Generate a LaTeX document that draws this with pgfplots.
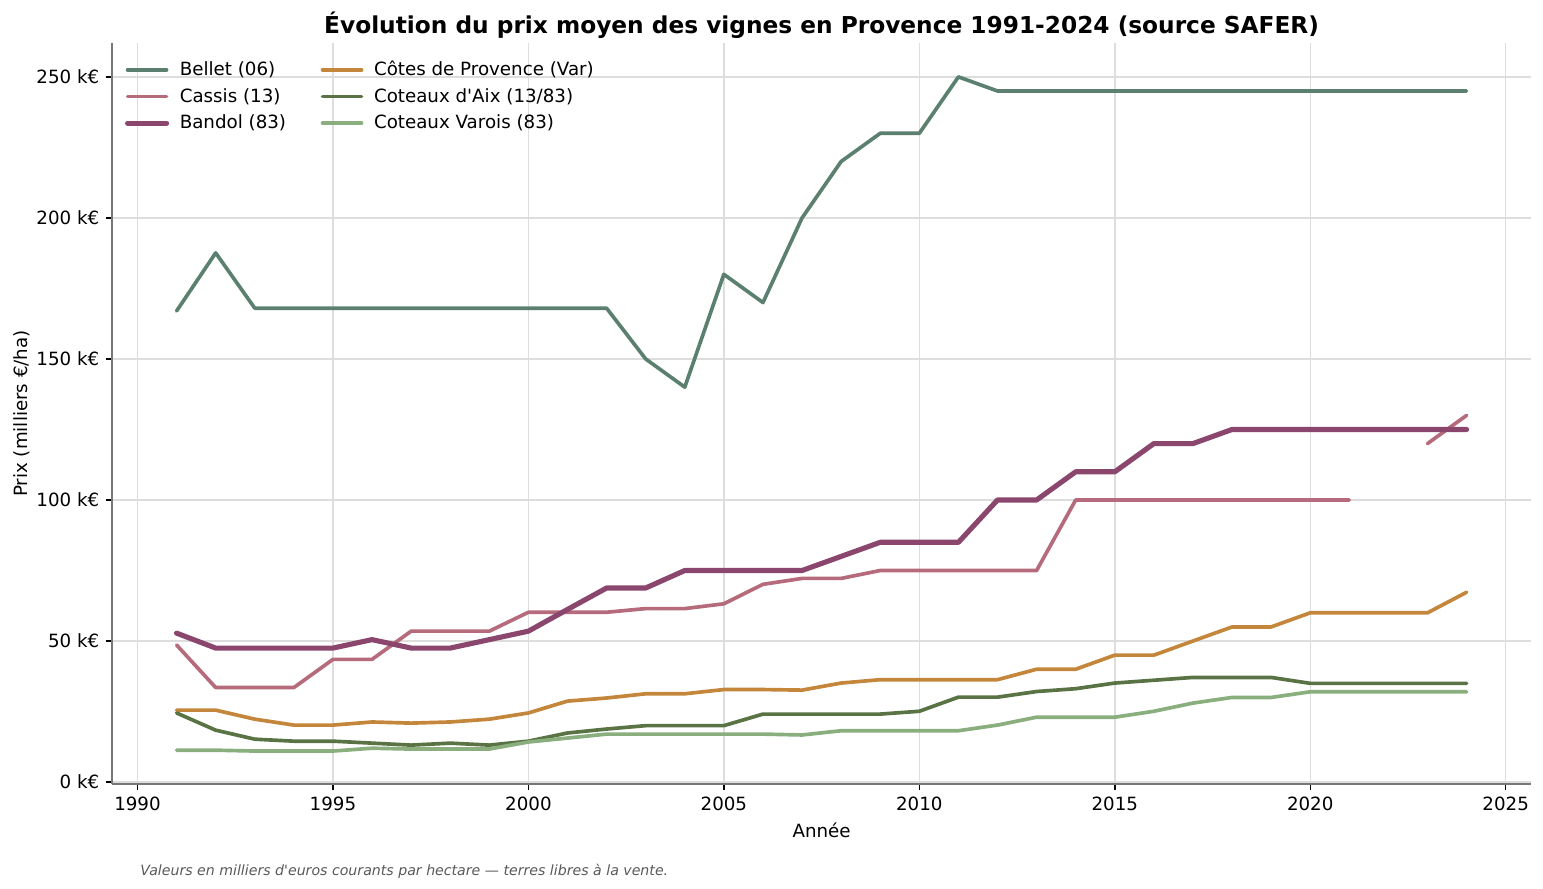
\documentclass[border=0pt]{standalone}
\usepackage{pgfplots}
\pgfplotsset{compat=1.18}
\usepackage{pgfplotstable}
\usepackage{fontspec}
\setmainfont{DejaVu Sans}

\definecolor{bellet}{HTML}{5B8070}
\definecolor{cassis}{HTML}{B56B7B}
\definecolor{bandol}{HTML}{8B466E}
\definecolor{cotes}{HTML}{C4863A}
\definecolor{aix}{HTML}{5A7344}
\definecolor{varois}{HTML}{8AAE7D}
\definecolor{spine}{HTML}{777777}
\definecolor{gridc}{HTML}{DDDDDD}

% prix en k€/ha
\pgfplotstableread{
year bellet cassis bandol cotes aix varois
1991 167 48.6 52.8 25.5 24.5 11.3
1992 187.6 33.5 47.5 25.5 18.4 11.3
1993 168 33.5 47.5 22.3 15.2 11.0
1994 168 33.5 47.5 20.2 14.5 11.0
1995 168 43.5 47.5 20.2 14.5 11.0
1996 168 43.5 50.5 21.3 13.8 12.0
1997 168 53.5 47.5 20.9 13.1 11.7
1998 168 53.5 47.5 21.3 13.8 11.7
1999 168 53.5 50.5 22.3 13.1 11.7
2000 168 60.2 53.5 24.5 14.5 14.2
2001 168 60.2 61.2 28.7 17.4 15.6
2002 168 60.2 68.8 29.8 18.8 17.0
2003 150 61.5 68.8 31.3 20.0 17.0
2004 140 61.5 75 31.3 20.0 17.0
2005 180 63.2 75 32.8 20.0 17.0
2006 170 70.1 75 32.8 24.1 17.0
2007 200 72.2 75 32.6 24.1 16.7
2008 220 72.2 80 35.1 24.1 18.2
2009 230 75 85 36.3 24.1 18.2
2010 230 75 85 36.3 25.1 18.2
2011 250 75 85 36.3 30.1 18.2
2012 245 75 100 36.3 30.1 20.2
2013 245 75 100 40 32.1 23.0
2014 245 100 110 40 33.1 23.0
2015 245 100 110 45 35.1 23.0
2016 245 100 120 45 36.1 25.1
2017 245 100 120 50 37.1 28.0
2018 245 100 125 55 37.1 30.0
2019 245 100 125 55 37.1 30.0
2020 245 100 125 60 35 32.0
2021 245 100 125 60 35 32.0
2022 245 nan 125 60 35 32.0
2023 245 120 125 60 35 32.0
2024 245 130 125 67.3 35 32.0
}\prix

\begin{document}
\begin{tikzpicture}
\begin{axis}[
  name=main,
  at={(0,0)}, anchor=south west,
  scale only axis,
  width=774.8bp, height=404.6bp,
  xmin=1989.35, xmax=2025.65,
  ymin=-0.7, ymax=262,
  xtick={1990,1995,...,2025},
  ytick={0,50,...,250},
  /pgf/number format/1000 sep={},
  /pgf/number format/assume math mode=true,
  yticklabel={\pgfmathparse{int(round(\tick))}\pgfmathresult{} k€},
  tick label style={font=\fontsize{10}{12}\selectfont},
  axis x line*=bottom, axis y line*=left,
  axis line style={draw=spine, line width=0.8bp, -},
  tick align=outside,
  major tick length=3.5bp,
  tick style={black, line width=0.8bp},
  grid=major,
  grid style={gridc, line width=0.8bp},
  xlabel={Année},
  ylabel={Prix (milliers €/ha)},
  label style={font=\fontsize{10}{12}\selectfont},
  ylabel style={yshift=-3.3bp},
  title={\textbf{Évolution du prix moyen des vignes en Provence 1991-2024 (source SAFER)}},
  every axis title shift=0pt,
  title style={font=\fontsize{12.75}{14}\selectfont, anchor=base, at={(0.5,1)}, yshift=5.4bp},
  unbounded coords=jump,
  legend columns=2,
  legend cell align=left,
  legend style={at={(0.005,0.986)}, anchor=north west, draw=none, fill=none,
    font=\fontsize{10}{12}\selectfont, row sep=1.4bp,
    nodes={inner sep=2bp},
    /tikz/column 2/.style={column sep=16.9bp}},
  legend image code/.code={\draw[#1] (0bp,0bp) -- (21.3bp,0bp); \path (25.1bp,0bp);},
  every axis plot/.append style={line join=round, line cap=round},
]
% courbes, dans l'ordre de tracé
\addplot[bellet, line width=2bp, forget plot] table[x=year, y=bellet] {\prix};
\addplot[cassis, line width=2bp, forget plot] table[x=year, y=cassis] {\prix};
\addplot[bandol, line width=2.8bp, forget plot] table[x=year, y=bandol] {\prix};
\addplot[cotes, line width=2bp, forget plot] table[x=year, y=cotes] {\prix};
\addplot[aix, line width=2bp, forget plot] table[x=year, y=aix] {\prix};
\addplot[varois, line width=2bp, forget plot] table[x=year, y=varois] {\prix};
% légende en deux colonnes (remplie ligne par ligne)
\addlegendimage{bellet, line width=2bp}
\addlegendentry{Bellet (06)}
\addlegendimage{cotes, line width=2bp}
\addlegendentry{Côtes de Provence (Var)}
\addlegendimage{cassis, line width=2bp}
\addlegendentry{Cassis (13)}
\addlegendimage{aix, line width=2bp}
\addlegendentry{Coteaux d\textquotesingle Aix (13/83)}
\addlegendimage{bandol, line width=2.8bp}
\addlegendentry{Bandol (83)}
\addlegendimage{varois, line width=2bp}
\addlegendentry{Coteaux Varois (83)}
\end{axis}
\node[anchor=base west, font=\fontsize{7.75}{10}\selectfont\itshape, text=black!65, inner sep=0pt]
  at (15.3bp,-49.7bp) {Valeurs en milliers d\textquotesingle euros courants par hectare — terres libres à la vente.};
\pgfresetboundingbox
\path (-61.2bp,-57.3bp) rectangle (781.3bp,428.1bp);
\end{tikzpicture}
\end{document}
